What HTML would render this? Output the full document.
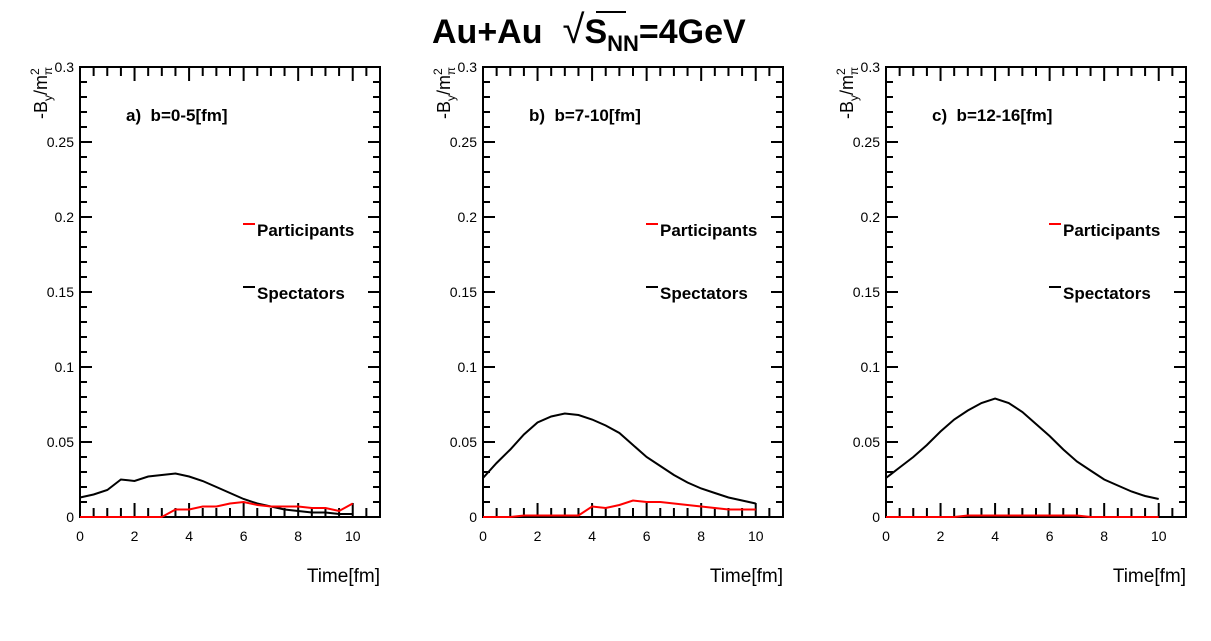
<!DOCTYPE html>
<html><head><meta charset="utf-8"><style>
body{margin:0;background:#fff;}
svg text{font-family:"Liberation Sans",Arial,sans-serif;}
</style></head><body>
<svg id="c" width="1211" height="636" viewBox="0 0 1211 636">
<text x="432" y="43" font-size="34" font-weight="bold">Au+Au<tspan dx="20" font-weight="normal" font-size="40">√</tspan><tspan>S</tspan><tspan font-size="22" dy="8">NN</tspan><tspan dy="-8">=4GeV</tspan></text>
<line x1="596" y1="12" x2="626" y2="12" stroke="#000" stroke-width="2"/>
</svg>
<script>
const times=[0,0.5,1,1.5,2,2.5,3,3.5,4,4.5,5,5.5,6,6.5,7,7.5,8,8.5,9,9.5,10];
const spectA=[0.013,0.015,0.018,0.025,0.024,0.027,0.028,0.029,0.027,0.024,0.02,0.016,0.012,0.009,0.007,0.005,0.004,0.003,0.003,0.002,0.002];
const partA=[0,0,0,0,0,0,0,0.005,0.005,0.007,0.007,0.009,0.01,0.008,0.007,0.007,0.007,0.006,0.006,0.004,0.009];
const spectB=[0.026,0.036,0.045,0.055,0.063,0.067,0.069,0.068,0.065,0.061,0.056,0.048,0.04,0.034,0.028,0.023,0.019,0.016,0.013,0.011,0.009];
const partB=[0,0,0,0.001,0.001,0.001,0.001,0.001,0.007,0.006,0.008,0.011,0.01,0.01,0.009,0.008,0.007,0.006,0.005,0.005,0.005];
const spectC=[0.026,0.033,0.04,0.048,0.057,0.065,0.071,0.076,0.079,0.076,0.07,0.062,0.054,0.045,0.037,0.031,0.025,0.021,0.017,0.014,0.012];
const partC=[0,0,0,0,0,0,0.001,0.001,0.001,0.001,0.001,0.001,0.001,0.001,0.001,0,0,0,0,0,0];
const xTicks=[0,2,4,6,8,10];
const yTicks=[0,0.05,0.1,0.15,0.2,0.25,0.3];
const panelLabels=["a)\u00a0\u00a0b=0-5[fm]","b)\u00a0\u00a0b=7-10[fm]","c)\u00a0\u00a0b=12-16[fm]"];
const spects=[spectA,spectB,spectC], parts=[partA,partB,partC];
const NS="http://www.w3.org/2000/svg", svg=document.getElementById('c');
function mk(t,a,p){const e=document.createElementNS(NS,t);for(const k in a)e.setAttribute(k,a[k]);(p||svg).appendChild(e);return e;}
const W=300,H=450,Y0=67;
for(let p=0;p<3;p++){
  const X0=80+p*403;
  const g=mk('g',{});
  
  
  const sx=t=>X0+t/11*W, sy=v=>Y0+H-v/0.3*H;
  const fr=mk('rect',{x:X0,y:Y0,width:W,height:H,fill:'none',stroke:'#000','stroke-width':2},g);
  
  
  let d='';
  for(let t=0;t<=11.001;t+=0.5){const x=sx(t),L=(Math.abs(t%2)<1e-6)?14:9;d+=`M${x} ${Y0+H}v${-L}M${x} ${Y0}v${L}`;}
  for(let v=0;v<=0.3001;v+=0.01){const y=sy(v),L=(Math.abs(Math.round(v*100)%5)==0)?12:7;d+=`M${X0} ${y}h${L}M${X0+W} ${y}h${-L}`;}
  mk('path',{d:d,stroke:'#000','stroke-width':2,fill:'none'},g);
  xTicks.forEach(t=>{const e=mk('text',{x:sx(t),y:541,'font-size':14,'text-anchor':'middle'},g);e.textContent=t;
    });
  yTicks.forEach(v=>{const e=mk('text',{x:X0-6,y:sy(v)+5,'font-size':14,'text-anchor':'end'},g);e.textContent=v;
    });
  const xt=mk('text',{x:X0+W,y:582,'font-size':19,'text-anchor':'end'},g);xt.textContent='Time[fm]';
  
  const yt=mk('text',{transform:`translate(${X0-33},${Y0}) rotate(-90)`,'font-size':18,'text-anchor':'end'},g);
  yt.innerHTML='-B<tspan font-size="12" dy="5">y</tspan><tspan dy="-5">/m</tspan><tspan font-size="12" dy="-8">2</tspan><tspan font-size="12" dx="-7" dy="13">π</tspan>';
  
  const pl=mk('text',{x:X0+46,y:121,'font-size':17,'font-weight':'bold'},g);pl.textContent=panelLabels[p];
  
  [['Participants','red',230],['Spectators','#000',293]].forEach(([n,c,y])=>{
    const lg=mk('g',{},g);
    
    
    mk('line',{x1:X0+163,x2:X0+175,y1:y-6,y2:y-6,stroke:c,'stroke-width':2},lg);
    const t=mk('text',{x:X0+177,y:y+6,'font-size':17,'font-weight':'bold'},lg);t.textContent=n;
  });
  [[spects[p],'#000','spectators-line'],[parts[p],'red','participants-line']].forEach(([arr,c,n])=>{
    const pts=arr.map((v,i)=>sx(times[i]).toFixed(1)+','+sy(v).toFixed(1)).join(' ');
    const l=mk('polyline',{points:pts,fill:'none',stroke:c,'stroke-width':2},g);
    
  });
}
</script>
</body></html>
